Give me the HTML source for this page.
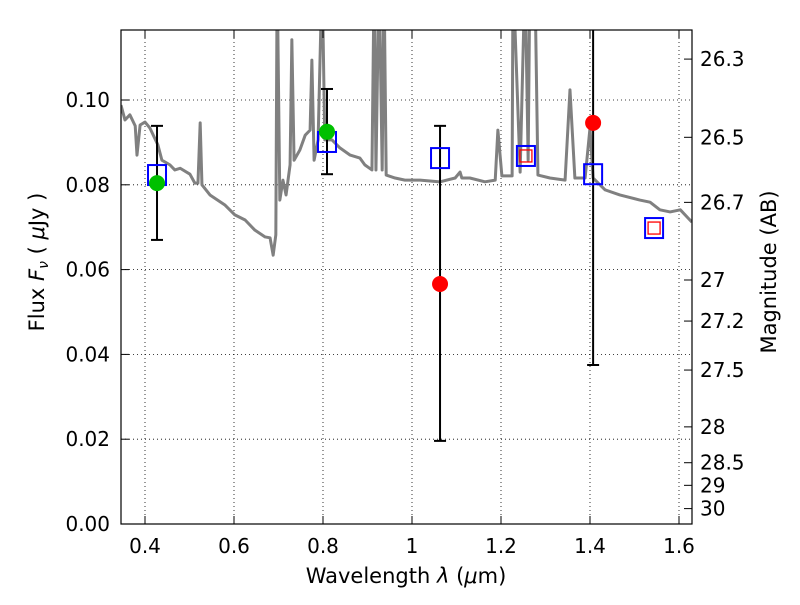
<!DOCTYPE html>
<html><head><meta charset="utf-8"><style>
body{margin:0;background:#fff;}
svg text{font-family:"DejaVu Sans","Liberation Sans",sans-serif;fill:#000;}
</style></head><body>
<svg id="chart" width="800" height="600" viewBox="0 0 800 600" xmlns="http://www.w3.org/2000/svg">
<defs><clipPath id="clip"><rect x="121" y="30" width="571" height="494"/></clipPath></defs>
<g id="grid"></g>
<g id="spec" clip-path="url(#clip)"></g>
<g id="marks" clip-path="url(#clip)"></g>
<rect x="121" y="30" width="571" height="494" fill="none" stroke="#000" stroke-width="1.2"/>
<g id="axes"></g>
<text x="406" y="583" font-size="21" text-anchor="middle">Wavelength  <tspan font-style="italic">λ</tspan> (<tspan font-style="italic">μ</tspan>m)</text>
<text transform="translate(44,262) rotate(-90)" font-size="21" text-anchor="middle">Flux  <tspan font-style="italic">F<tspan font-size="14" dy="4">ν</tspan></tspan><tspan dy="-4">  ( </tspan><tspan font-style="italic">μ</tspan>Jy )</text>
<text transform="translate(776,272) rotate(-90)" font-size="21" text-anchor="middle">Magnitude (AB)</text>
</svg>
<script>
const specWave=[0.346,0.355,0.366,0.378,0.382,0.389,0.400,0.411,0.429,0.438,0.456,0.467,0.479,0.501,0.512,0.519,0.524,0.528,0.546,0.580,0.602,0.625,0.647,0.670,0.681,0.688,0.694,0.697,0.703,0.710,0.717,0.726,0.730,0.735,0.748,0.760,0.771,0.775,0.780,0.789,0.798,0.804,0.820,0.838,0.861,0.883,0.894,0.910,0.915,0.919,0.926,0.933,0.937,0.942,0.962,0.984,1.018,1.063,1.097,1.108,1.112,1.130,1.164,1.187,1.193,1.202,1.225,1.227,1.243,1.254,1.261,1.265,1.276,1.283,1.310,1.344,1.355,1.366,1.389,1.400,1.407,1.434,1.467,1.512,1.535,1.557,1.580,1.603,1.620,1.629];
const specFlux=[0.0988,0.0953,0.0965,0.0939,0.0870,0.0941,0.0948,0.0934,0.0894,0.0858,0.0847,0.0835,0.0839,0.0825,0.0804,0.0804,0.0946,0.0800,0.0776,0.0752,0.0729,0.0717,0.0693,0.0677,0.0675,0.0634,0.0682,0.13,0.0764,0.0811,0.0776,0.0847,0.1142,0.0858,0.0882,0.0917,0.0929,0.1094,0.0858,0.0906,0.13,0.0906,0.0906,0.0887,0.0870,0.0863,0.0847,0.0835,0.13,0.0835,0.13,0.0835,0.13,0.0823,0.0816,0.0811,0.0811,0.0807,0.0816,0.0830,0.0816,0.0816,0.0807,0.0811,0.0929,0.0821,0.0821,0.13,0.0830,0.13,0.0858,0.13,0.13,0.0823,0.0816,0.0811,0.1024,0.0816,0.0816,0.0934,0.0816,0.0788,0.0776,0.0764,0.0759,0.0741,0.0736,0.0741,0.0722,0.0712];
const modelWave=[0.427,0.809,1.063,1.256,1.407,1.544];
const modelFlux=[0.0823,0.0901,0.0863,0.0868,0.0825,0.0698];
const redSqWave=[1.256,1.544];
const redSqFlux=[0.0868,0.0698];
const greenWave=[0.427,0.809];
const greenFlux=[0.0804,0.0925];
const greenHi=[0.0939,0.1026];
const greenLo=[0.0670,0.0825];
const redWave=[1.063,1.407];
const redFlux=[0.0566,0.0946];
const redHi=[0.0939,0.152];
const redLo=[0.0196,0.0375];
const xTicks=[0.4,0.6,0.8,1.0,1.2,1.4,1.6];
const xTickLabels=["0.4","0.6","0.8","1","1.2","1.4","1.6"];
const yTicks=[0,0.02,0.04,0.06,0.08,0.10];
const yTickLabels=["0.00","0.02","0.04","0.06","0.08","0.10"];
const magTicks=[26.3,26.5,26.7,27,27.2,27.5,28,28.5,29,30];

const X=l=>145+(l-0.4)*445;
const Y=f=>524-f*4240;
const magY=m=>Y(Math.pow(10,(23.9-m)/2.5));
const NS="http://www.w3.org/2000/svg";
function mk(tag,attrs,parent){const e=document.createElementNS(NS,tag);for(const k in attrs)e.setAttribute(k,attrs[k]);parent.appendChild(e);return e;}
const grid=document.getElementById('grid'),axes=document.getElementById('axes'),spec=document.getElementById('spec'),marks=document.getElementById('marks');

xTicks.forEach((t,i)=>{
 const x=X(t);
 const g=mk('line',{x1:x,x2:x,y1:30,y2:524,stroke:'#000','stroke-width':0.8,'stroke-dasharray':'1,3'},grid);
 
 
 mk('line',{x1:x,x2:x,y1:524,y2:516,stroke:'#000'},axes);
 mk('line',{x1:x,x2:x,y1:30,y2:38,stroke:'#000'},axes);
 const tx=mk('text',{x:x,y:553,'font-size':20,'text-anchor':'middle'},axes);
 tx.textContent=xTickLabels[i];
 
 
});
yTicks.forEach((t,i)=>{
 const y=Y(t);
 const g=mk('line',{x1:121,x2:692,y1:y,y2:y,stroke:'#000','stroke-width':0.8,'stroke-dasharray':'1,3'},grid);
 
 
 mk('line',{x1:121,x2:129,y1:y,y2:y,stroke:'#000'},axes);
 const tx=mk('text',{x:110,y:y+7,'font-size':20,'text-anchor':'end'},axes);
 tx.textContent=yTickLabels[i];
 
 
});
magTicks.forEach(m=>{
 const y=magY(m);
 mk('line',{x1:684,x2:692,y1:y,y2:y,stroke:'#000'},axes);
 const tx=mk('text',{x:700,y:y+7,'font-size':20},axes);
 tx.textContent=String(m);
 
 
});

const p=mk('polyline',{points:specWave.map((l,i)=>X(l)+','+Y(specFlux[i])).join(' '),fill:'none',stroke:'#808080','stroke-width':3,'stroke-linejoin':'round'},spec);



function errbar(wv,hi,lo,name){
 wv.forEach((l,i)=>{
  const x=X(l);
  const g=mk('g',{},marks);
  
  
  mk('line',{x1:x,x2:x,y1:Y(hi[i]),y2:Y(lo[i]),stroke:'#000','stroke-width':2},g);
  mk('line',{x1:x-6,x2:x+6,y1:Y(hi[i]),y2:Y(hi[i]),stroke:'#000','stroke-width':2},g);
  mk('line',{x1:x-6,x2:x+6,y1:Y(lo[i]),y2:Y(lo[i]),stroke:'#000','stroke-width':2},g);
 });
}
errbar(greenWave,greenHi,greenLo,'detection-error-bar');
errbar(redWave,redHi,redLo,'weak-detection-error-bar');

modelWave.forEach((l,i)=>{
 const r=mk('rect',{x:X(l)-9,y:Y(modelFlux[i])-10,width:18,height:20,fill:'none',stroke:'#0000ff','stroke-width':2},marks);
 
 
});
redSqWave.forEach((l,i)=>{
 const r=mk('rect',{x:X(l)-6,y:Y(redSqFlux[i])-6,width:12,height:12,fill:'none',stroke:'#ff0000','stroke-width':1.3},marks);
 
 
});
greenWave.forEach((l,i)=>{
 const c=mk('circle',{cx:X(l),cy:Y(greenFlux[i]),r:8,fill:'#00c000'},marks);
 
 
});
redWave.forEach((l,i)=>{
 const c=mk('circle',{cx:X(l),cy:Y(redFlux[i]),r:8,fill:'#ff0000'},marks);
 
 
});
</script>
</body></html>
